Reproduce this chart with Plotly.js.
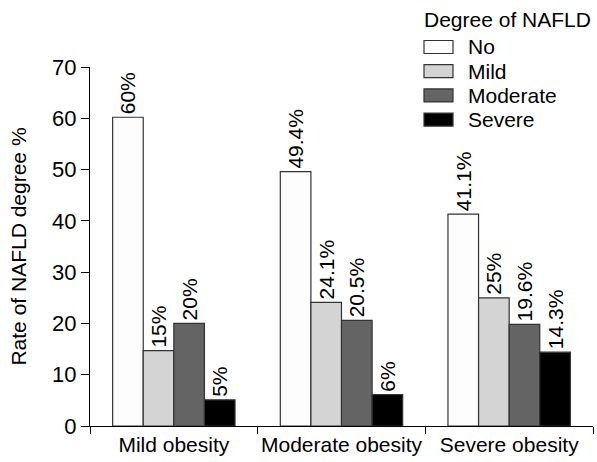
<!DOCTYPE html>
<html>
<head>
<meta charset="utf-8">
<script src="https://cdn.plot.ly/plotly-3.0.1.min.js"></script>
<style>html,body{margin:0;padding:0;background:#fff;}#chart{width:597px;height:462px;}</style>
</head>
<body>
<div id="chart"></div>
<script>
const categories = ["Mild obesity", "Moderate obesity", "Severe obesity"];
const seriesNames = ["No", "Mild", "Moderate", "Severe"];
const valuesNo = [60.2, 49.6, 41.3];
const valuesMild = [14.7, 24.1, 25.0];
const valuesModerate = [20.0, 20.6, 19.8];
const valuesSevere = [5.1, 6.1, 14.4];
const labelsNo = ["60%", "49.4%", "41.1%"];
const labelsMild = ["15%", "24.1%", "25%"];
const labelsModerate = ["20%", "20.5%", "19.6%"];
const labelsSevere = ["5%", "6%", "14.3%"];
const yTicks = [0, 10, 20, 30, 40, 50, 60, 70];
const legendTitle = "Degree of NAFLD";

const colors = ["#fdfdfd", "#d4d4d4", "#646464", "#000000"];
const allValues = [valuesNo, valuesMild, valuesModerate, valuesSevere];
const allLabels = [labelsNo, labelsMild, labelsModerate, labelsSevere];
const FONT = "Liberation Sans, Arial, sans-serif";

const traces = seriesNames.map((name, i) => ({
  type: "bar",
  name: name,
  x: categories,
  y: allValues[i],
  text: allLabels[i],
  textposition: "outside",
  textangle: -90,
  constraintext: "none",
  cliponaxis: false,
  outsidetextfont: {family: FONT, size: 21, color: "#000"},
  marker: {color: colors[i], line: {color: "#333333", width: 1.2}},
  hoverinfo: "none",
  showlegend: false
}));

// Legend drawn in paper coordinates (plot area: 503 x 359 px)
const PW = 503, PH = 359, L = 90, T = 67;
const px = v => (v - L) / PW;
const py = v => (T + PH - v) / PH;
const shapes = [];
const annotations = [{
  xref: "paper", yref: "paper", x: px(422), y: py(19),
  xanchor: "left", yanchor: "middle", showarrow: false,
  text: legendTitle, font: {family: FONT, size: 21, color: "#000"}
}];
seriesNames.forEach((name, i) => {
  const cy = 47 + i * 24.2;
  shapes.push({
    type: "rect", xref: "paper", yref: "paper",
    x0: px(424), x1: px(453), y0: py(cy - 6.5), y1: py(cy + 6.5),
    fillcolor: colors[i], line: {color: "#333333", width: 1.2}
  });
  annotations.push({
    xref: "paper", yref: "paper", x: px(466), y: py(cy),
    xanchor: "left", yanchor: "middle", showarrow: false,
    text: name, font: {family: FONT, size: 21, color: "#000"}
  });
});

const layout = {
  width: 597, height: 462,
  margin: {l: 90, r: 4, t: 67, b: 36},
  paper_bgcolor: "#fff", plot_bgcolor: "#fff",
  font: {family: FONT, size: 21, color: "#000"},
  barmode: "group",
  bargap: 0.27,
  bargroupgap: 0,
  showlegend: false,
  shapes: shapes,
  annotations: annotations,
  xaxis: {
    type: "category",
    range: [-0.5, 2.5],
    showline: true, linecolor: "#000", linewidth: 1,
    ticks: "outside", tickson: "boundaries", ticklen: 7, tickcolor: "#000", tickwidth: 1,
    tickangle: 0,
    showgrid: false, zeroline: false,
    tickfont: {family: FONT, size: 21, color: "#000"}
  },
  yaxis: {
    range: [0, 70],
    tickvals: yTicks,
    showline: true, linecolor: "#000", linewidth: 1,
    ticks: "outside", ticklen: 8, tickcolor: "#000", tickwidth: 1,
    showgrid: false, zeroline: false,
    tickfont: {family: FONT, size: 22, color: "#000"},
    title: {text: "Rate of NAFLD degree %", font: {family: FONT, size: 21, color: "#000"}, standoff: 19}
  }
};

Plotly.newPlot("chart", traces, layout, {displayModeBar: false, staticPlot: true});
</script>
</body>
</html>
